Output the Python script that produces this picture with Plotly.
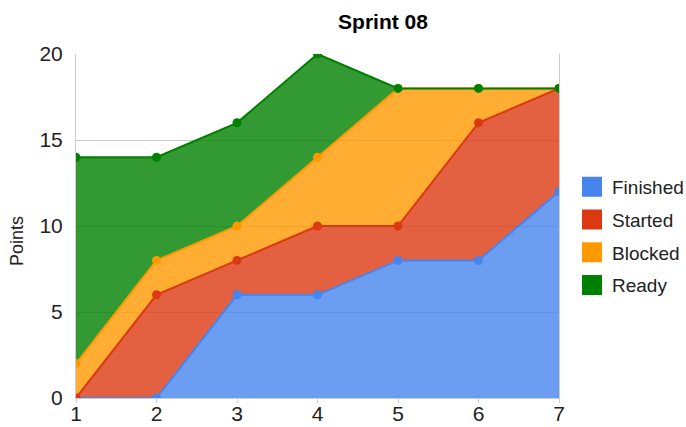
import plotly.graph_objects as go

days = [1, 2, 3, 4, 5, 6, 7]
finished = [0, 0, 6, 6, 8, 8, 12]
started = [0, 6, 2, 4, 2, 8, 6]
blocked = [2, 2, 2, 4, 8, 2, 0]
ready = [12, 6, 6, 6, 0, 0, 0]

series = [
    ("Finished", finished, "#4684EE"),
    ("Started", started, "#DC3912"),
    ("Blocked", blocked, "#FF9900"),
    ("Ready", ready, "#008000"),
]

def fade(hex_color, alpha=0.8):
    r, g, b = (int(hex_color[i:i + 2], 16) for i in (1, 3, 5))
    return f"rgba({r},{g},{b},{alpha})"

FONT = "Liberation Sans, Arial, sans-serif"
W, H = 686, 427

fig = go.Figure()
for name, vals, color in series:
    fig.add_trace(go.Scatter(
        x=days, y=vals, name=name, legendgroup=name,
        stackgroup="one", mode="lines+markers",
        line=dict(color=color, width=2),
        marker=dict(color=color, size=9),
        fillcolor=fade(color),
        showlegend=False,
    ))
    # square swatch for the legend, like the original
    fig.add_trace(go.Scatter(
        x=[None], y=[None], name=name, legendgroup=name,
        mode="markers",
        marker=dict(color=color, size=16, symbol="square",
                    line=dict(color=color, width=4)),
    ))

fig.update_layout(
    width=W, height=H,
    margin=dict(l=76, r=127, t=54, b=29, autoexpand=False),
    paper_bgcolor="white", plot_bgcolor="white",
    font=dict(family=FONT, color="#222222", size=21),
    title=dict(text="<b>Sprint 08</b>", x=383 / W, xanchor="center",
               y=1 - 22 / H, yanchor="middle",
               font=dict(size=21, color="#000000")),
    legend=dict(x=572 / W, xref="container", xanchor="left",
                y=1 - 236 / H, yref="container", yanchor="middle",
                font=dict(size=19, color="#222222"),
                tracegroupgap=5, itemwidth=30, traceorder="grouped"),
    showlegend=True,
    annotations=[dict(text="Points", textangle=-90, xref="paper", yref="paper",
                      x=(17 - 76) / 483, y=157 / 344, showarrow=False,
                      xanchor="center", yanchor="middle",
                      font=dict(size=18, color="#222222"))],
)
fig.update_xaxes(range=[1, 7], tickvals=days, showgrid=False,
                 showline=True, linecolor="#cccccc", mirror=False,
                 ticks="outside", ticklen=4, tickcolor="#cccccc",
                 tickfont=dict(size=21), zeroline=False, automargin=False,
                 ticklabelstandoff=-7)
fig.update_yaxes(range=[0, 20], dtick=5, gridcolor="#cccccc",
                 showline=True, linecolor="#cccccc", mirror=True,
                 zeroline=False, tickfont=dict(size=21), automargin=False,
                 ticklabelstandoff=8)

# drop the default 8px body margin so the figure fills the window exactly
fig.write_html("out.html", config={"displayModeBar": False},
               post_script="document.body.style.margin='0';"
                           "document.body.style.overflow='hidden';")
